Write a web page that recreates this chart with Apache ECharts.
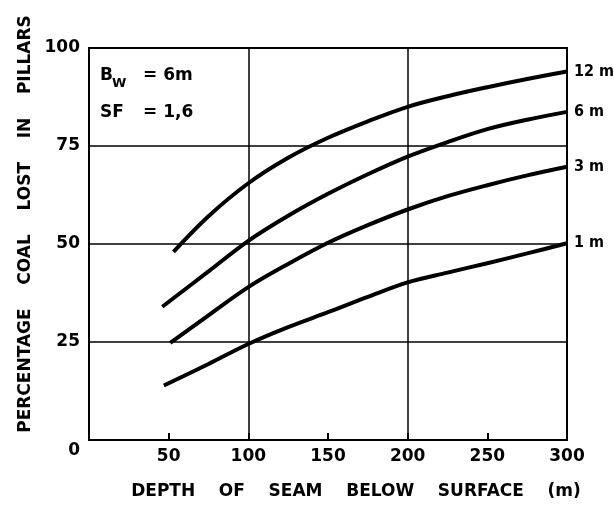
<!DOCTYPE html>
<html>
<head>
<meta charset="utf-8">
<script src="https://cdn.jsdelivr.net/npm/echarts@6/dist/echarts.min.js"></script>
<style>
    html, body { margin: 0; padding: 0; background: #fff; }
    #chart { width: 614px; height: 506px; }
</style>
</head>
<body>
<div id="chart"></div>
<script>
// curve names (pillar width)
var curveNames = ['12 m', '6 m', '3 m', '1 m'];

// depth of seam (m) for each curve
var depth12 = [53, 75, 100, 125, 150, 175, 200, 225, 250, 275, 300];
var depth6 = [46, 75, 100, 125, 150, 175, 200, 225, 250, 275, 300];
var depth3 = [51, 75, 100, 125, 150, 175, 200, 225, 250, 275, 300];
var depth1 = [47, 75, 100, 125, 150, 175, 200, 225, 250, 275, 300];

// percentage coal lost in pillars
var loss12 = [48, 57.1, 65.5, 72, 77.1, 81.3, 85, 87.7, 90, 92.1, 94];
var loss6 = [34, 43, 50.8, 57.2, 62.8, 67.8, 72.3, 76, 79.3, 81.7, 83.7];
var loss3 = [24.8, 31.8, 39, 44.9, 50.3, 54.8, 58.8, 62.2, 65, 67.5, 69.7];
var loss1 = [13.9, 19.4, 24.5, 28.8, 32.6, 36.5, 40.2, 42.7, 45.1, 47.6, 50.2];

// axis ticks
var xTicks = [0, 50, 100, 150, 200, 250, 300];
var yTicks = [0, 25, 50, 75, 100];

var FONT = 'DejaVu Sans';
var FONT_NARROW = 'DejaVu Sans Condensed';

function fnPairs(xs, ys) {
    var out = [];
    for (var i = 0; i < xs.length; i++) {
        out.push([xs[i], ys[i]]);
    }
    return out;
}

function fnCurve(name, xs, ys) {
    return {
        name: name,
        type: 'line',
        xAxisIndex: 0,
        smooth: 0.35,
        symbol: 'none',
        lineStyle: { color: '#000', width: 4 },
        endLabel: {
            show: true,
            formatter: '{a}',
            distance: 7,
            color: '#000',
            fontFamily: FONT_NARROW,
            fontWeight: 'bold',
            fontSize: 16
        },
        data: fnPairs(xs, ys)
    };
}

var myChart = echarts.init(document.getElementById('chart'));

var option = {
    animation: false,
    backgroundColor: '#fff',
    grid: {
        left: 89, right: 47, top: 48, bottom: 66,
        show: true,
        borderColor: '#000',
        borderWidth: 2
    },
    xAxis: [
        {
            type: 'value',
            min: xTicks[0],
            max: xTicks[xTicks.length - 1],
            interval: xTicks[1] - xTicks[0],
            name: 'DEPTH    OF    SEAM    BELOW    SURFACE    (m)',
            nameLocation: 'middle',
            nameGap: 43,
            nameTextStyle: { color: '#000', fontFamily: FONT, fontWeight: 'bold', fontSize: 17, padding: [0, 0, 0, 56] },
            axisLine: { lineStyle: { color: '#000', width: 2 } },
            axisTick: { show: true, inside: true, length: 7, lineStyle: { color: '#000', width: 2 } },
            axisLabel: {
                color: '#000', fontFamily: FONT, fontWeight: 'bold', fontSize: 17, margin: 8,
                formatter: function (v) { return v === 0 ? '' : v; }
            },
            splitLine: { show: false }
        },
        {
            // only for the grid lines at 100 and 200
            type: 'value',
            min: 0, max: 300, interval: 100,
            axisLine: { show: false },
            axisTick: { show: false },
            axisLabel: { show: false },
            splitLine: { show: true, lineStyle: { color: '#000', width: 1.5 } }
        }
    ],
    yAxis: {
        type: 'value',
        min: yTicks[0],
        max: yTicks[yTicks.length - 1],
        interval: yTicks[1] - yTicks[0],
        name: 'PERCENTAGE    COAL    LOST    IN    PILLARS',
        nameLocation: 'middle',
        nameGap: 54,
        nameTextStyle: { color: '#000', fontFamily: FONT, fontWeight: 'bold', fontSize: 17, padding: [0, 0, 0, 40] },
        axisLine: { show: true, lineStyle: { color: '#000', width: 2 } },
        axisTick: { show: false },
        axisLabel: {
            color: '#000', fontFamily: FONT, fontWeight: 'bold', fontSize: 17, margin: 9,
            formatter: function (v) { return v === 0 ? '{z|0}' : v; },
            rich: { z: { color: '#000', fontFamily: FONT, fontWeight: 'bold', fontSize: 17, padding: [22, 0, 0, 0] } }
        },
        splitLine: { show: true, lineStyle: { color: '#000', width: 1.5 } }
    },
    graphic: [
        { type: 'text', x: 100, y: 76, style: { text: 'B', font: 'bold 17px ' + FONT, fill: '#000', verticalAlign: 'middle' } },
        { type: 'text', x: 112, y: 84, style: { text: 'W', font: 'bold 13px ' + FONT, fill: '#000', verticalAlign: 'middle' } },
        { type: 'text', x: 143, y: 76, style: { text: '= 6m', font: 'bold 17px ' + FONT, fill: '#000', verticalAlign: 'middle' } },
        { type: 'text', x: 100, y: 113, style: { text: 'SF', font: 'bold 17px ' + FONT, fill: '#000', verticalAlign: 'middle' } },
        { type: 'text', x: 143, y: 113, style: { text: '= 1,6', font: 'bold 17px ' + FONT, fill: '#000', verticalAlign: 'middle' } }
    ],
    series: [
        fnCurve(curveNames[0], depth12, loss12),
        fnCurve(curveNames[1], depth6, loss6),
        fnCurve(curveNames[2], depth3, loss3),
        fnCurve(curveNames[3], depth1, loss1)
    ]
};

myChart.setOption(option);
</script>
</body>
</html>
